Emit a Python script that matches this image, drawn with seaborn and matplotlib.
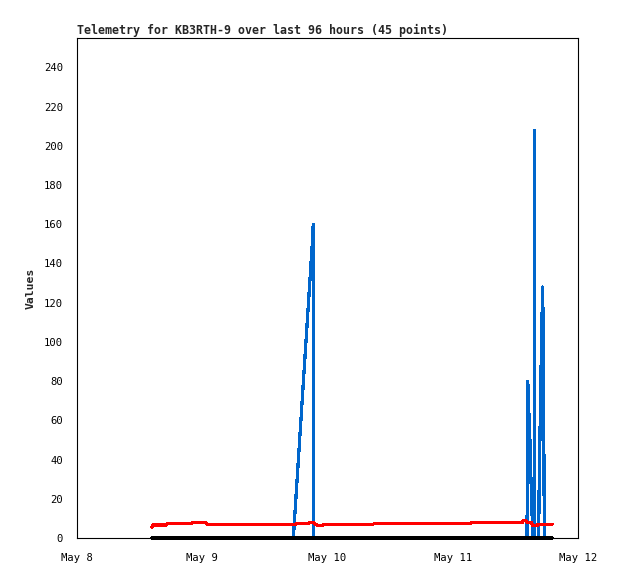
import numpy as np
import pandas as pd
import matplotlib
matplotlib.use("Agg")
import matplotlib.pyplot as plt
import matplotlib.dates as mdates
import seaborn as sns

# ---- data (hours after May 8 00:00) ----
blue_hours = [14.37, 41.45, 45.13, 45.26, 45.34, 86.23, 86.36, 86.48, 86.57, 86.71,
              86.84, 87.00, 87.13, 87.28, 87.44, 87.63, 87.70, 87.74, 88.47, 88.53,
              88.78, 89.05, 89.24, 89.39, 89.55, 91.02]
blue_vals = [0, 0, 152, 160, 0, 0, 80, 74, 52, 63,
             40, 29, 18, 5, 0, 0, 208, 0, 0, 21,
             64, 107, 128, 80, 0, 0]

red_hours = [14.37, 14.47, 17.05, 17.25, 21.85, 22.04, 24.72, 24.91, 41.96, 42.15,
             44.26, 44.45, 45.22, 45.61, 45.99, 46.95, 47.24, 56.72, 56.92, 75.31,
             75.50, 85.27, 85.46, 86.04, 86.23, 87.00, 87.38, 88.15, 88.34, 91.02]
red_vals = [5.3, 6.6, 6.6, 7.3, 7.3, 7.8, 7.8, 7.0, 7.0, 7.3,
            7.3, 7.8, 7.8, 7.3, 6.6, 6.3, 7.0, 7.0, 7.3, 7.3,
            7.8, 7.8, 8.8, 8.8, 8.0, 8.0, 6.3, 6.3, 7.0, 7.0]

black_hours = [14.37, 91.02]
black_vals = [0, 0]

x_tick_labels = ["May 8", "May 9", "May 10", "May 11", "May 12"]
y_ticks = list(range(0, 241, 20))
title = "Telemetry for KB3RTH-9 over last 96 hours (45 points)"

base = pd.Timestamp("2024-05-08")
def to_dt(h):
    return [base + pd.Timedelta(hours=v) for v in h]

sns.set_style("white")
plt.rcParams["font.family"] = ["DejaVu Sans Mono"]

fig = plt.figure(figsize=(6.18, 5.79), dpi=100)
ax = fig.add_axes([77/618, 1-538/579, 501/618, 500/579])

lw = 1.6
sns.lineplot(x=to_dt(blue_hours), y=blue_vals, ax=ax, color="#0066cc", lw=lw,
             estimator=None, sort=False, antialiased=False)
sns.lineplot(x=to_dt(red_hours), y=red_vals, ax=ax, color="#ff0000", lw=lw,
             estimator=None, sort=False, antialiased=False)
sns.lineplot(x=to_dt(black_hours), y=black_vals, ax=ax, color="#000000", lw=1.5,
             estimator=None, sort=False, antialiased=False, clip_on=False, zorder=5)

ax.set_xlim(base, base + pd.Timedelta(days=4))
ax.set_ylim(0, 255)
ax.set_xticks([base + pd.Timedelta(days=i) for i in range(5)])
ax.set_xticklabels(x_tick_labels)
ax.set_yticks(y_ticks)
ax.set_yticklabels([str(v) for v in y_ticks])
ax.tick_params(axis="both", direction="out", length=5, width=1, color="black",
               labelsize=7.6, pad=5, labelcolor="black")
ax.tick_params(axis="x", pad=6)
for s in ax.spines.values():
    s.set_color("black")
    s.set_linewidth(0.8)

ax.set_xlabel("")
ax.set_ylabel("Values", fontsize=8.2, fontweight="bold", labelpad=6)
ax.set_title(title, loc="left", fontsize=8.35, fontweight="bold", pad=3)
ax.grid(False)

fig.savefig("out.png", dpi=100)
